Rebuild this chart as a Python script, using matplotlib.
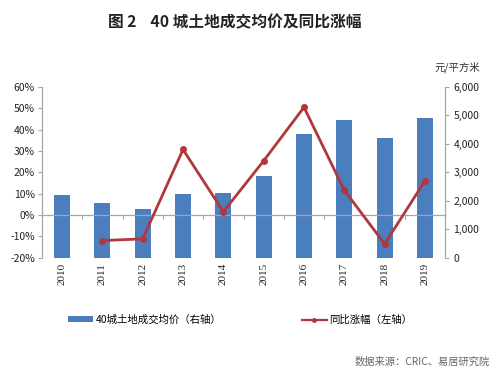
import matplotlib
matplotlib.use("Agg")
import matplotlib.pyplot as plt
from matplotlib.patches import Patch
from matplotlib.lines import Line2D
from matplotlib.ticker import FuncFormatter

plt.rcParams['font.family'] = ['Noto Sans CJK SC', 'DejaVu Sans']

years = ['2010', '2011', '2012', '2013', '2014', '2015', '2016', '2017', '2018', '2019']
# average land price, yuan / sq m (right axis)
price = [2185, 1915, 1705, 2245, 2290, 2870, 4350, 4840, 4220, 4920]
# year-on-year change, % (left axis); no value for 2010
yoy = [None, -12.0, -11.2, 30.7, 1.5, 25.4, 50.5, 11.6, -13.6, 16.0]

bar_color = '#4A7EBF'
line_color = '#B0383C'
axis_gray = '#A6A6A6'

fig = plt.figure(figsize=(4.99, 3.75), dpi=100)
ax = fig.add_axes([0.084, 0.313, 0.808, 0.455])
ax2 = ax.twinx()

x = list(range(len(years)))
ax2.bar(x, price, width=0.4, color=bar_color, zorder=2)
ax2.set_ylim(0, 6000)
ax2.set_yticks(range(0, 6001, 1000))
ax2.yaxis.set_major_formatter(FuncFormatter(lambda v, p: f'{int(v):,}'))

lx = [i for i, v in zip(x, yoy) if v is not None]
ly = [v for v in yoy if v is not None]
ax.plot(lx, ly, color=line_color, lw=2, marker='o', ms=4, zorder=3)
ax.set_ylim(-20, 60)
ax.set_yticks(range(-20, 61, 10))
ax.yaxis.set_major_formatter(FuncFormatter(lambda v, p: f'{int(v)}%'))
ax.set_xlim(-0.5, len(years) - 0.5)

ax.set_zorder(ax2.get_zorder() + 1)
ax.patch.set_visible(False)

# category axis sits on the 0% line
ax.spines['bottom'].set_position(('data', 0))
ax.set_xticks([i - 0.5 for i in range(len(years) + 1)])
ax.set_xticklabels([])
ax.tick_params(axis='x', direction='out', length=3, color=axis_gray)

sec = ax.secondary_xaxis(0)
sec.set_xticks(x)
sec.set_xticklabels(years, rotation=90, fontsize=8, color='#222222', family='Liberation Serif')
sec.tick_params(length=0, pad=4)
sec.spines['bottom'].set_visible(False)

for a in (ax, ax2):
    a.spines['top'].set_visible(False)
    for s in a.spines.values():
        s.set_color(axis_gray)
        s.set_linewidth(0.9)
ax2.spines['bottom'].set_visible(False)
ax2.spines['left'].set_visible(False)
ax.spines['right'].set_visible(False)

ax.tick_params(axis='y', direction='out', length=3, color=axis_gray, labelsize=7.5, labelcolor='#222222', pad=2)
ax2.tick_params(axis='y', direction='out', length=3, color=axis_gray, labelsize=7.5, labelcolor='#222222', pad=3)

fig.text(0.47, 0.94, '图 2    40 城土地成交均价及同比涨幅', ha='center', va='center',
         fontsize=11.3, fontweight='bold', color='#222222')
fig.text(0.916, 0.82, '元/平方米', ha='center', va='center', fontsize=7.5, color='#333333')

handles = [Patch(facecolor=bar_color, edgecolor='none'),
           Line2D([0], [0], color=line_color, lw=1.6, marker='o', ms=2.5)]
fig.legend(handles, ['40城土地成交均价（右轴）', '同比涨幅（左轴）'], loc='center left',
           bbox_to_anchor=(0.137, 0.147), ncol=2, frameon=False, fontsize=7.5,
           handlelength=2.4, handleheight=0.5, handletextpad=0.25, columnspacing=7.7,
           borderpad=0, borderaxespad=0)

fig.text(0.982, 0.035, '数据来源：CRIC、易居研究院', ha='right', va='center', fontsize=7.4, color='#666666')

fig.savefig('out.png', dpi=100)
